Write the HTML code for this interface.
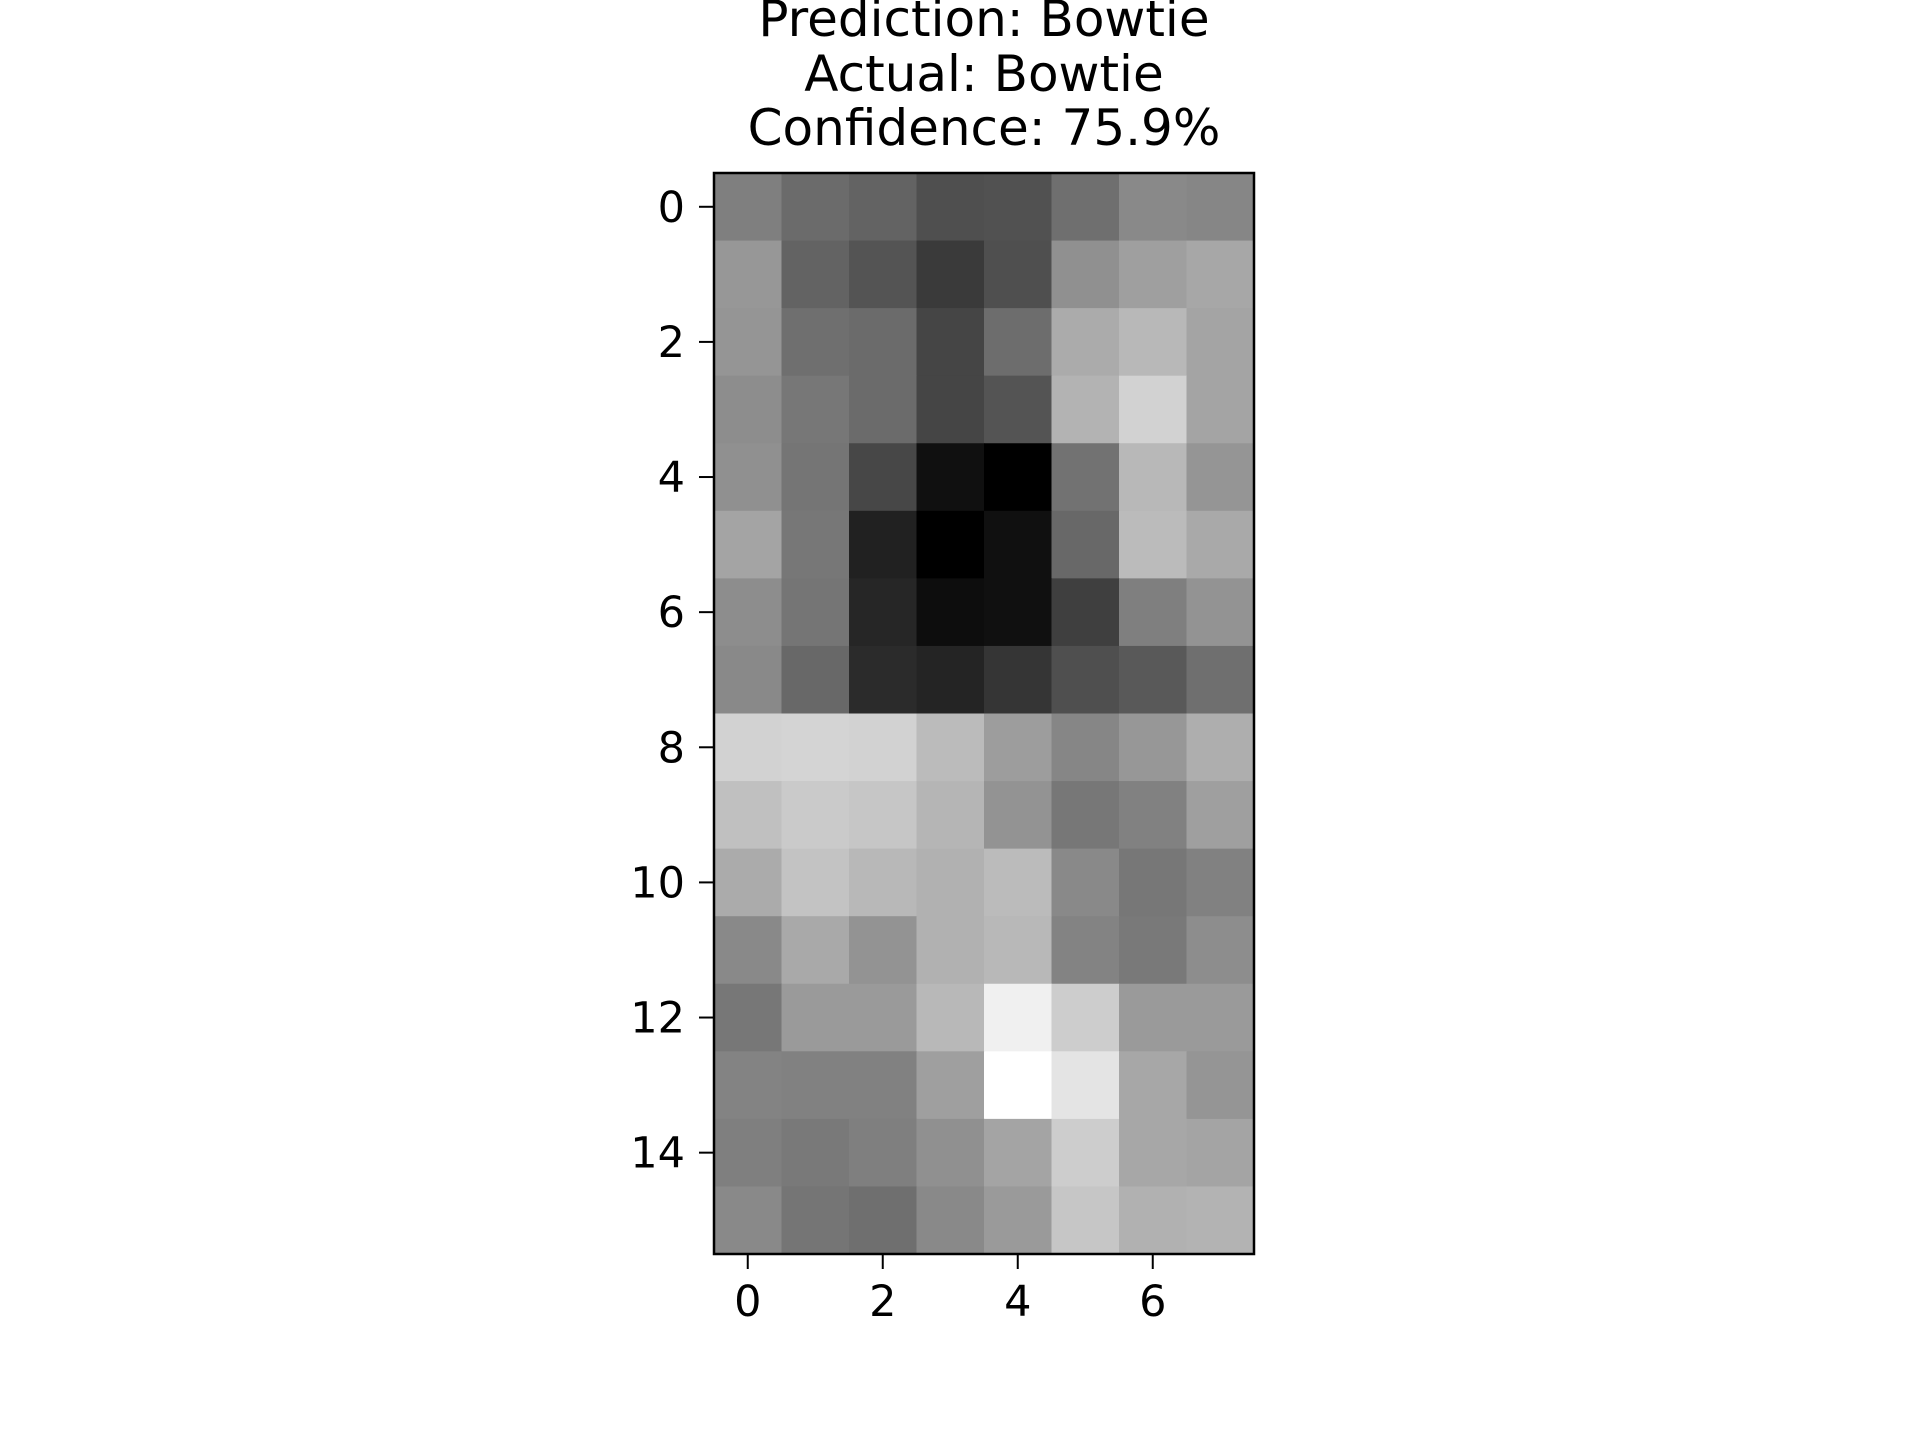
<!DOCTYPE html>
<html><head><meta charset="utf-8"><style>
html,body{margin:0;padding:0;background:#fff;}
svg{display:block;font-family:"DejaVu Sans","Liberation Sans",sans-serif;}
</style></head><body>
<svg id="chart" width="1920" height="1433" viewBox="0 0 1920 1433">
<rect width="1920" height="1433" fill="#fff"/>
<g font-size="50" text-anchor="middle" fill="#000">
<text x="984" y="36">Prediction: Bowtie</text>
<text x="984" y="91">Actual: Bowtie</text>
<text x="984" y="145">Confidence: 75.9%</text>
</g>
<g id="cells"></g>
<g id="axes"></g>
</svg>
<script>
const pixelValues = [
[128,108,100,80,82,112,138,135],
[152,100,85,60,80,145,160,168],
[150,112,108,70,110,172,185,165],
[142,120,108,70,85,180,210,165],
[145,118,72,18,2,115,185,150],
[165,120,35,2,18,105,188,170],
[142,118,40,15,18,65,128,148],
[138,105,45,38,55,80,90,112],
[210,212,210,188,158,135,152,175],
[192,202,198,182,148,120,130,160],
[172,195,185,178,188,138,120,130],
[138,170,148,178,185,132,122,142],
[120,155,155,185,240,205,155,155],
[132,130,130,160,255,228,168,150],
[128,122,128,145,165,205,168,165],
[138,118,112,138,155,198,178,180]
];
const xTicks = [0,2,4,6];
const yTicks = [0,2,4,6,8,10,12,14];

const NS="http://www.w3.org/2000/svg";
const L=714,R=1254,T=173,B=1254;
const nRows=pixelValues.length,nCols=pixelValues[0].length;
const cw=(R-L)/nCols,ch=(B-T)/nRows;
const xs=c=>L+(c+0.5)*cw, ys=r=>T+(r+0.5)*ch;
let vmin=Infinity,vmax=-Infinity;
pixelValues.forEach(r=>r.forEach(v=>{vmin=Math.min(vmin,v);vmax=Math.max(vmax,v);}));
const gray=v=>{const g=Math.round((v-vmin)/(vmax-vmin||1)*255);return `rgb(${g},${g},${g})`;};
const cells=document.getElementById('cells');
pixelValues.forEach((row,r)=>row.forEach((v,c)=>{
  const e=document.createElementNS(NS,'rect');
  e.setAttribute('x',xs(c)-cw/2);e.setAttribute('y',ys(r)-ch/2);
  e.setAttribute('width',cw+0.6);e.setAttribute('height',ch+0.6);
  e.setAttribute('fill',gray(v));
  
  
  cells.appendChild(e);
}));
const ax=document.getElementById('axes');
const fr=document.createElementNS(NS,'rect');
fr.setAttribute('x',L);fr.setAttribute('y',T);fr.setAttribute('width',R-L);fr.setAttribute('height',B-T);
fr.setAttribute('fill','none');fr.setAttribute('stroke','#000');fr.setAttribute('stroke-width','2.5');


ax.appendChild(fr);
yTicks.forEach(t=>{
  const y=ys(t);
  const ln=document.createElementNS(NS,'line');
  ln.setAttribute('x1',L-15);ln.setAttribute('x2',L);ln.setAttribute('y1',y);ln.setAttribute('y2',y);
  ln.setAttribute('stroke','#000');ln.setAttribute('stroke-width','2');
  
  
  ax.appendChild(ln);
  const tx=document.createElementNS(NS,'text');
  tx.setAttribute('x',L-29);tx.setAttribute('y',y+15);tx.setAttribute('text-anchor','end');tx.setAttribute('font-size','43');
  tx.textContent=t;
  
  
  ax.appendChild(tx);
});
xTicks.forEach(t=>{
  const x=xs(t);
  const ln=document.createElementNS(NS,'line');
  ln.setAttribute('x1',x);ln.setAttribute('x2',x);ln.setAttribute('y1',B);ln.setAttribute('y2',B+15);
  ln.setAttribute('stroke','#000');ln.setAttribute('stroke-width','2');
  
  
  ax.appendChild(ln);
  const tx=document.createElementNS(NS,'text');
  tx.setAttribute('x',x);tx.setAttribute('y',B+62);tx.setAttribute('text-anchor','middle');tx.setAttribute('font-size','43');
  tx.textContent=t;
  
  
  ax.appendChild(tx);
});
</script>
</body></html>
